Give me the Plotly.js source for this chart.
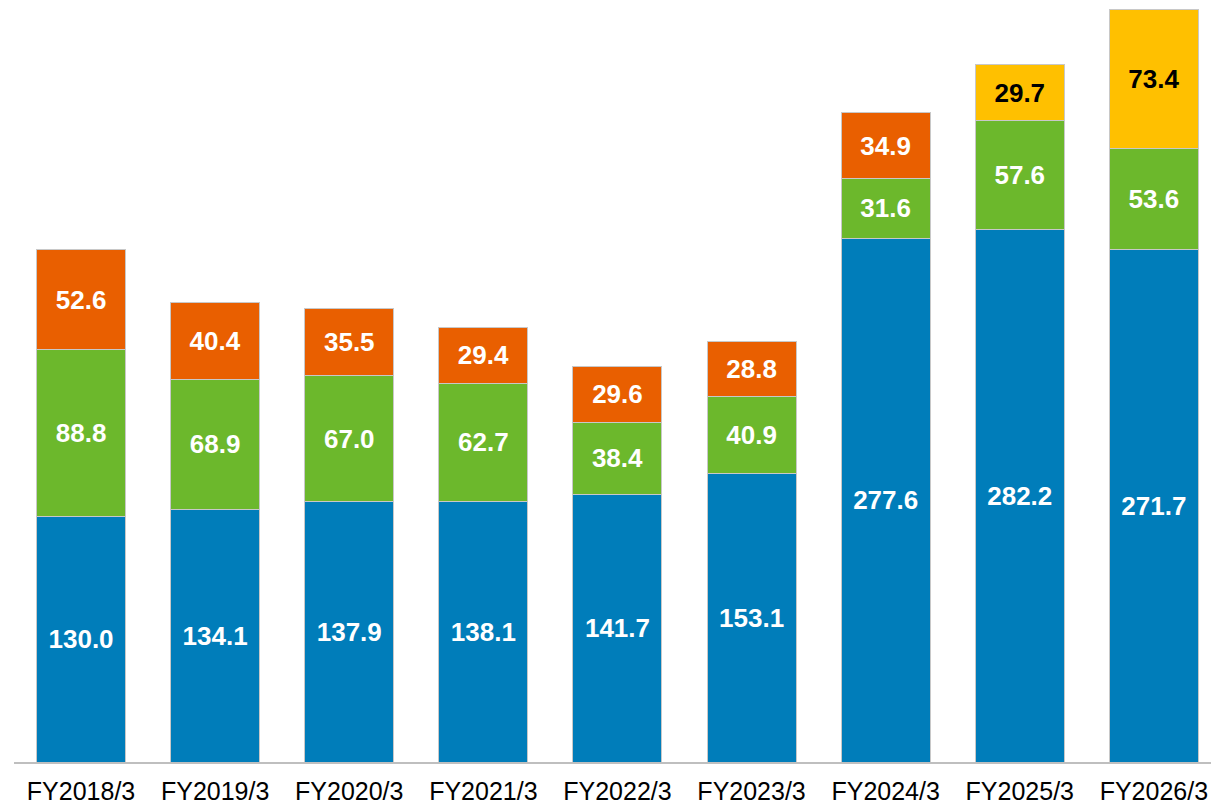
<!DOCTYPE html>
<html>
<head>
<meta charset="utf-8">
<script src="https://cdn.plot.ly/plotly-3.0.1.min.js"></script>
<style>
  html, body { margin: 0; padding: 0; background: #ffffff; }
  #chart { width: 1211px; height: 808px; }
</style>
</head>
<body>
<div id="chart"></div>
<script>
const categories = ["FY2018/3", "FY2019/3", "FY2020/3", "FY2021/3", "FY2022/3", "FY2023/3", "FY2024/3", "FY2025/3", "FY2026/3"];
const blueValues   = [130.0, 134.1, 137.9, 138.1, 141.7, 153.1, 277.6, 282.2, 271.7];
const greenValues  = [88.8, 68.9, 67.0, 62.7, 38.4, 40.9, 31.6, 57.6, 53.6];
const orangeValues = [52.6, 40.4, 35.5, 29.4, 29.6, 28.8, 34.9, null, null];
const yellowValues = [null, null, null, null, null, null, null, 29.7, 73.4];

function labels(arr) { return arr.map(v => v === null ? "" : v.toFixed(1)); }

function series(vals, color, textColor) {
  return {
    type: "bar",
    x: categories,
    y: vals,
    text: labels(vals),
    textposition: "inside",
    insidetextanchor: "middle",
    constraintext: "none",
    textangle: 0,
    textfont: { family: "Liberation Sans, Arial, sans-serif", size: 26, color: textColor, weight: "bold" },
    marker: { color: color, line: { color: "#c8c8c8", width: 1 } },
    hoverinfo: "skip",
    showlegend: false
  };
}

const data = [
  series(blueValues, "#007DBA", "#ffffff"),
  series(greenValues, "#6CB82C", "#ffffff"),
  series(orangeValues, "#E95F00", "#ffffff"),
  series(yellowValues, "#FFC000", "#000000")
];

const layout = {
  width: 1211,
  height: 808,
  barmode: "stack",
  bargap: 0.336,
  margin: { l: 14, r: 0, t: 0, b: 46, pad: 0 },
  paper_bgcolor: "#ffffff",
  plot_bgcolor: "#ffffff",
  xaxis: {
    type: "category",
    range: [-0.5, 8.426],
    showline: true,
    linecolor: "#bfbfbf",
    linewidth: 2,
    ticks: "",
    showgrid: false,
    zeroline: false,
    ticklabelstandoff: 6,
    tickfont: { family: "Liberation Sans, Arial, sans-serif", size: 25, color: "#000000" }
  },
  yaxis: {
    range: [0, 403.9],
    visible: false,
    showgrid: false,
    zeroline: false
  },
  font: { family: "Liberation Sans, Arial, sans-serif" }
};

Plotly.newPlot("chart", data, layout, { displayModeBar: false, staticPlot: true });
</script>
</body>
</html>
